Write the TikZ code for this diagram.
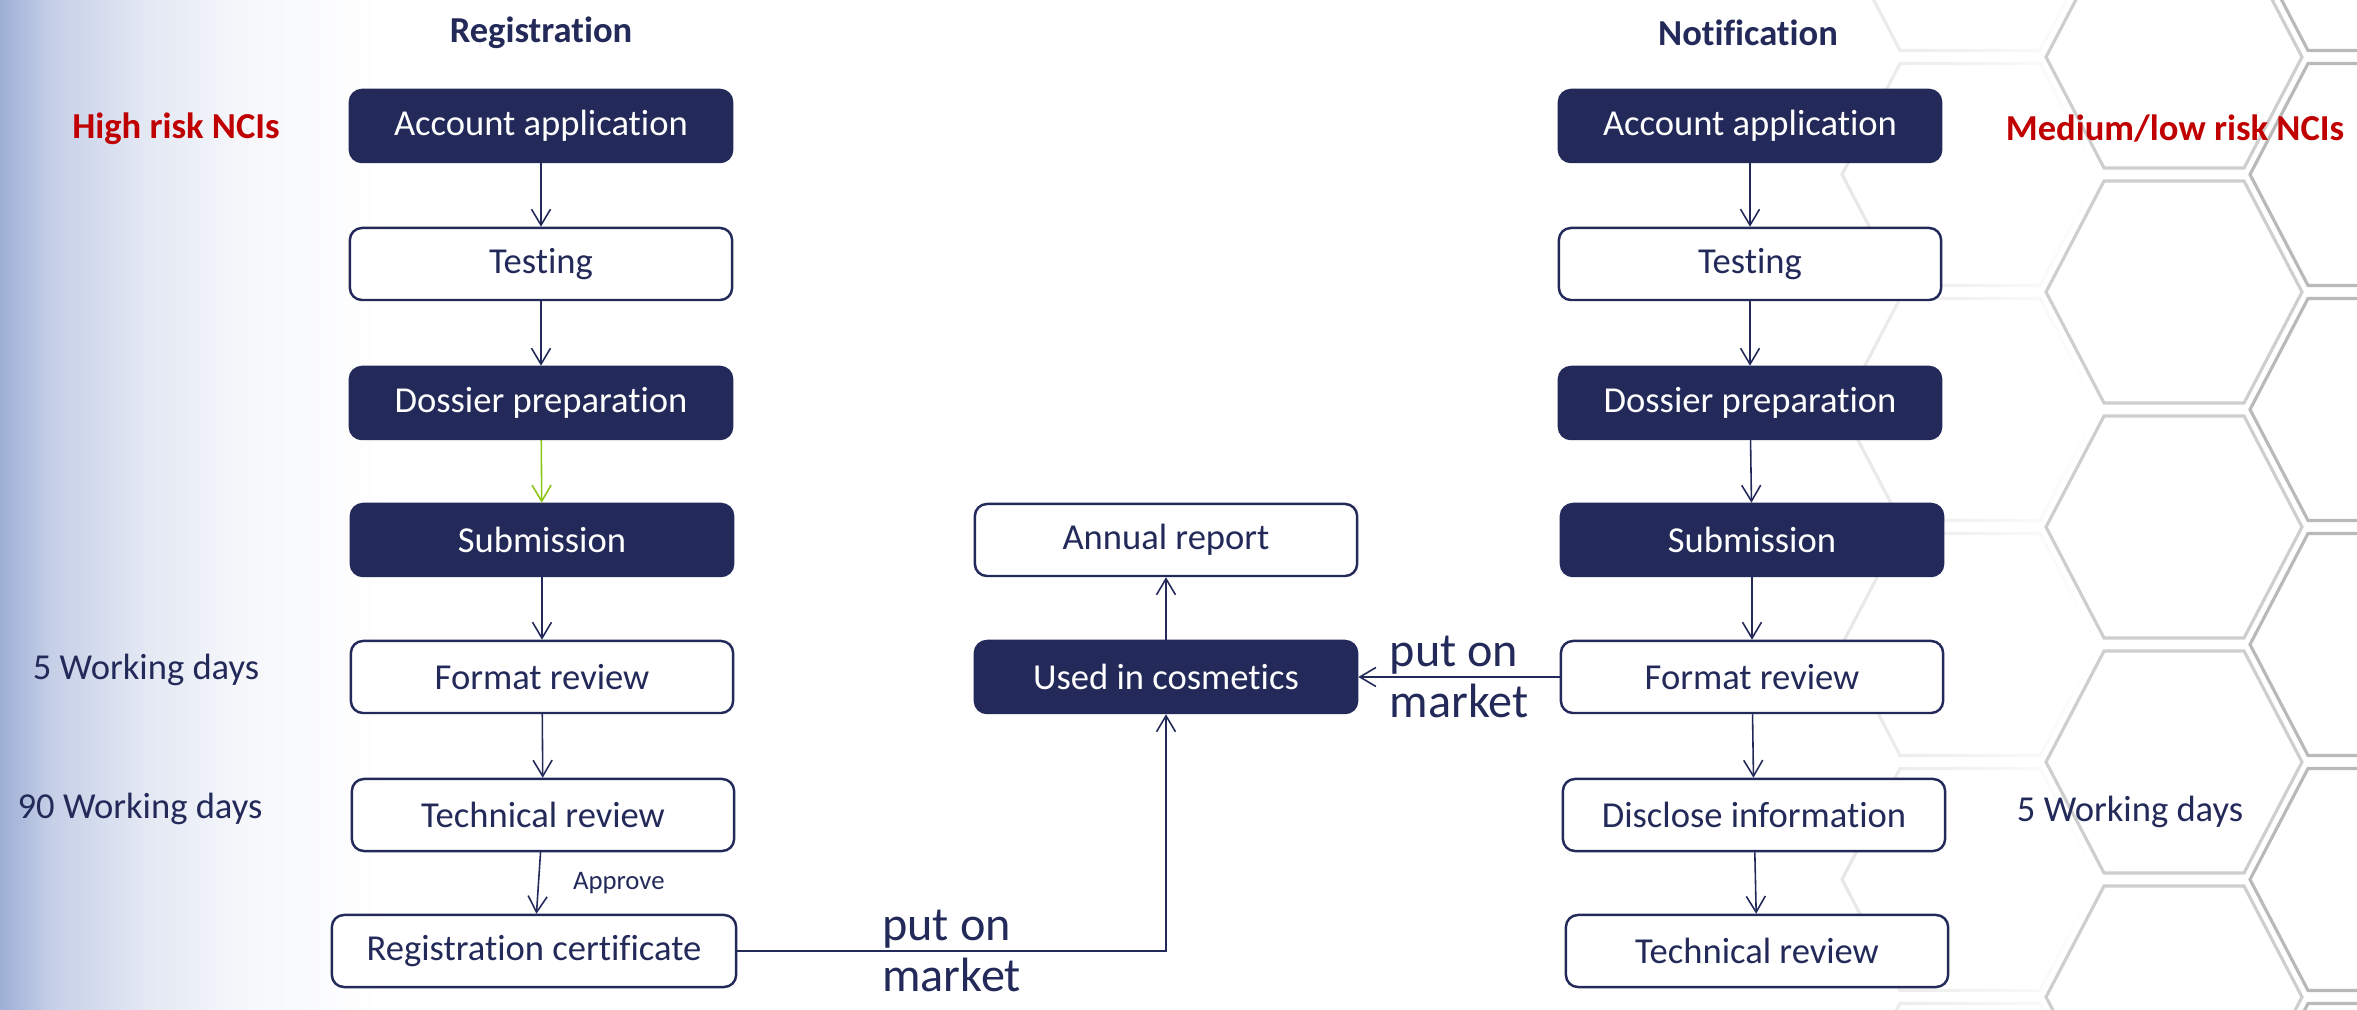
\documentclass[tikz,border=0pt]{standalone}
\usepackage{fontspec}
\setmainfont{Carlito}[Ligatures=NoCommon]
\usetikzlibrary{arrows.meta,fadings}

\definecolor{navy}{RGB}{35,42,89}
\definecolor{nciRed}{RGB}{192,0,0}
\definecolor{lime}{RGB}{140,198,20}
\definecolor{sideBlue}{RGB}{158,175,214}
\definecolor{hexGray}{RGB}{185,185,185}

\tikzset{
  darkbox/.style={draw=navy,fill=navy,text=white,rounded corners=0.12cm,
    minimum width=3.82cm,minimum height=0.72cm,line width=0.7pt,
    font=\fontsize{10.4}{12}\selectfont},
  lightbox/.style={darkbox,fill=white,text=navy},
  flow/.style={draw=navy,line width=0.45pt,-{Straight Barb[length=1.6mm,width=1.9mm]}},
  title/.style={text=navy,font=\fontsize{10.4}{12}\selectfont\bfseries},
  risk/.style={text=nciRed,font=\fontsize{10.4}{12}\selectfont\bfseries},
  days/.style={text=navy,font=\fontsize{10.4}{12}\selectfont},
  market/.style={text=navy,align=left,font=\fontsize{13.7}{14.6}\selectfont},
  hexline/.style={draw=hexGray,line width=0.9pt}
}

\begin{document}
\begin{tikzpicture}[x=0.01cm,y=-0.01cm]
		\useasboundingbox (0,0) rectangle (2357,1010);

		%Fondo
		\shade[left color=sideBlue,right color=sideBlue!60] (0,0) rectangle (51,1010);
		\shade[left color=sideBlue!60,right color=sideBlue!30] (50,0) rectangle (141,1010);
		\shade[left color=sideBlue!30,right color=sideBlue!10] (140,0) rectangle (241,1010);
		\shade[left color=sideBlue!10,right color=white] (240,0) rectangle (380,1010);
		\begin{scope}
			\clip (0,0) rectangle (2357,1010);
			\foreach \cx/\cy/\op in {1970/-60.5/0.35,1970/174.5/0.35,1970/409.5/0.35,1970/644.5/0.35,1970/879.5/0.35,1970/1114.5/0.35}
				\draw[hexline,opacity=\op,path fading=east] (\cx,\cy) ++(128,0) -- ++(-58,111) -- ++(-140,0) -- ++(-58,-111) -- ++(58,-111) -- ++(140,0) -- cycle;
			\foreach \cx/\cy/\op in {2174/-178/0.7,2174/57/0.7,2174/292/0.7,2174/527/0.7,2174/762/0.7,2174/997/0.7,
				2378/-60.5/1,2378/174.5/1,2378/409.5/1,2378/644.5/1,2378/879.5/1,2378/1114.5/1}
				\draw[hexline,opacity=\op] (\cx,\cy) ++(128,0) -- ++(-58,111) -- ++(-140,0) -- ++(-58,-111) -- ++(58,-111) -- ++(140,0) -- cycle;
		\end{scope}

		%Titulos
		\node [title] (regTitle) at (541,33) {Registration};
		\node [title] (notTitle) at (1748,33) {Notification};
		\node [risk] (highRisk) at (176,129) {High risk NCIs};
		\node [risk] (lowRisk) at (2175,129) {Medium/low risk NCIs};
		\node [days] (days5) at (146,670) {5 Working days};
		\node [days] (days90) at (140,809) {90 Working days};
		\node [days] (days5b) at (2130,812) {5 Working days};

		%Registro
		\node [darkbox] (reg1) at (541,126) {Account application};
		\node [lightbox] (reg2) at (541,264) {Testing};
		\node [darkbox] (reg3) at (541,403) {Dossier preparation};
		\node [darkbox] (reg4) at (542,540) {Submission};
		\node [lightbox] (reg5) at (542,677) {Format review};
		\node [lightbox] (reg6) at (543,815) {Technical review};
		\node [lightbox,minimum width=4.04cm] (reg7) at (534,951) {Registration certificate};

		%Centro
		\node [lightbox] (annual) at (1166,540) {Annual report};
		\node [darkbox] (used) at (1166,677) {Used in cosmetics};

		%Notificacion
		\node [darkbox] (not1) at (1750,126) {Account application};
		\node [lightbox] (not2) at (1750,264) {Testing};
		\node [darkbox] (not3) at (1750,403) {Dossier preparation};
		\node [darkbox] (not4) at (1752,540) {Submission};
		\node [lightbox] (not5) at (1752,677) {Format review};
		\node [lightbox] (not6) at (1754,815) {Disclose information};
		\node [lightbox] (not7) at (1757,951) {Technical review};

		%Flechas
		\draw[flow] (reg1)--(reg2);
		\draw[flow] (reg2)--(reg3);
		\draw[flow,draw=lime] (reg3)--(reg4);
		\draw[flow] (reg4)--(reg5);
		\draw[flow] (reg5)--(reg6);
		\draw[flow] (reg6)--node[days,right=0.22cm,font=\fontsize{7.6}{9}\selectfont] (approve) {Approve} (reg7);
		\draw[flow] (reg7.east) -| node[market,pos=0.25] (market1) {put on\\market} (used.south);
		\draw[flow] (used)--(annual);
		\draw[flow] (not5.west)--node[market] (market2) {put on\\market} (used.east);
		\draw[flow] (not1)--(not2);
		\draw[flow] (not2)--(not3);
		\draw[flow] (not3)--(not4);
		\draw[flow] (not4)--(not5);
		\draw[flow] (not5)--(not6);
		\draw[flow] (not6)--(not7);
\end{tikzpicture}
\end{document}
